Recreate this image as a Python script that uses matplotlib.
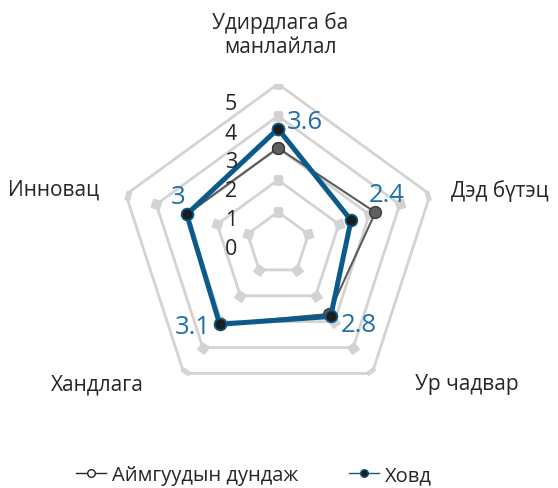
import numpy as np
import matplotlib
matplotlib.use('Agg')
import matplotlib.pyplot as plt
from matplotlib.lines import Line2D

plt.rcParams['font.family'] = ['Open Sans', 'DejaVu Sans']

# Data
categories = ['Удирдлага ба\nманлайлал', 'Дэд бүтэц', 'Ур чадвар', 'Хандлага', 'Инновац']
aimag_avg = [3.0, 3.2, 2.7, 3.1, 3.0]
khovd = [3.6, 2.4, 2.8, 3.1, 3.0]
ring_levels = [1, 2, 3, 4, 5]
scale_labels = ['0', '1', '2', '3', '4', '5']

W, H = 558, 489
fig = plt.figure(figsize=(W / 100, H / 100), dpi=100)
cx, cy, R = 278, 245, 160
ax = fig.add_axes([(cx - R) / W, (H - cy - R) / H, 2 * R / W, 2 * R / H], projection='polar')
ax.set_theta_zero_location('N')
ax.set_theta_direction(-1)
ax.set_ylim(0, 5)
ax.grid(False)
ax.spines['polar'].set_visible(False)
ax.set_xticks([])
ax.set_yticks([])
ax.patch.set_alpha(0)

n = len(categories)
theta = np.arange(n) * 2 * np.pi / n
theta_c = np.append(theta, theta[0])

def closed(vals):
    return np.append(vals, vals[0])

# concentric rings with square markers turned along each spoke
ring_color = '#D3D3D3'
for lvl in ring_levels:
    ax.plot(theta_c, [lvl] * (n + 1), color=ring_color, lw=2.0, zorder=1)
    for k, t in enumerate(theta):
        ax.plot(t, lvl, marker=(4, 0, 45 - np.degrees(t)), ms=8.5, color=ring_color,
                mec=ring_color, zorder=1.5)

# average of the aimags
ax.plot(theta_c, closed(aimag_avg), color='#5A5A5A', lw=1.5, marker='o', ms=8.5,
        mfc='#5F5F5F', mec='#3A3A3A', mew=1.0, zorder=3)

# Khovd
blue = '#0B5A8A'
ax.plot(theta_c, closed(khovd), color=blue, lw=3.6, marker='o', ms=8.5,
        mfc='#1C1C1C', mec=blue, mew=1.2, zorder=4)

# value labels for Khovd
label_offsets = [(27, 7), (36, 26), (28, -8), (-27, -2), (-9, 18)]
for t, v, (dx, dy) in zip(theta, khovd, label_offsets):
    ax.annotate(f'{v:g}', xy=(t, v), xytext=(dx, dy), textcoords='offset pixels',
                ha='center', va='center', fontsize=18.5, color='#1F6FA5', zorder=6)

def fx(x):
    return x / W

def fy(y):
    return 1 - y / H

# radial scale labels
for i, s in enumerate(scale_labels):
    fig.text(fx(231), fy(250 - i * 29), s, ha='center', va='center',
             fontsize=15.5, color='#262626')

# category labels
cat_pos = [(280, 35), (500, 191), (467, 385), (97, 385), (54, 190)]
for name, (x, y) in zip(categories, cat_pos):
    fig.text(fx(x), fy(y), name, ha='center', va='center', fontsize=15,
             color='#262626', linespacing=1.15)

handles = [
    Line2D([], [], color='#262626', lw=1.0, marker='o', ms=5.5, mfc='white', mec='#262626'),
    Line2D([], [], color=blue, lw=1.0, marker='o', ms=5.5, mfc='#1C1C1C', mec=blue),
]
fig.legend(handles, ['Аймгуудын дундаж', 'Ховд'], loc='center', ncol=2,
           bbox_to_anchor=(fx(254), fy(476)), frameon=False, fontsize=14.5,
           handlelength=1.5, handletextpad=0.3, columnspacing=2.5,
           labelcolor='#262626', borderpad=0.1)

fig.savefig('out.png', dpi=100, facecolor='white')
